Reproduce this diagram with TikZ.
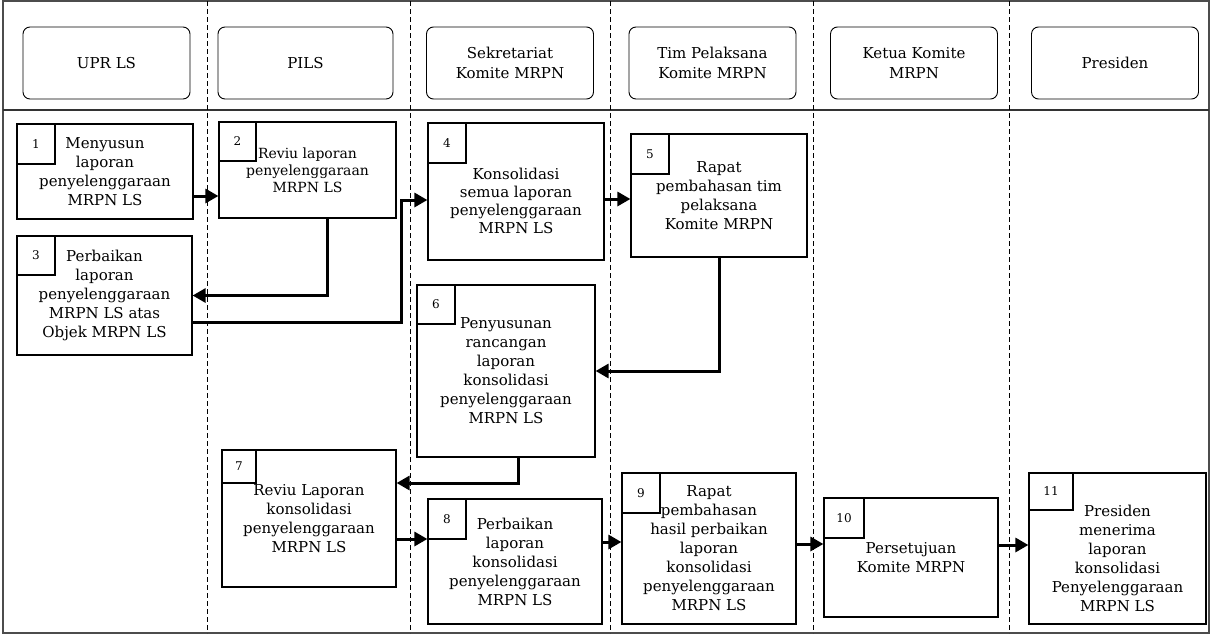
\documentclass[tikz,border=0pt]{standalone}
\usepackage{fontspec}
\setmainfont{DejaVu Serif}
\usetikzlibrary{arrows.meta,positioning}

\begin{document}
\begin{tikzpicture}[
    x=1pt, y=-1pt,
    every node/.style={font=\fontsize{15}{19}\selectfont},
    actor/.style={draw, rounded corners=7pt, line width=0.9pt, minimum width=167pt, minimum height=72pt, align=center, font=\fontsize{15}{20}\selectfont},
    proc/.style={draw, line width=1.2pt, align=center, inner sep=2pt},
    nr/.style={draw, line width=1.2pt, anchor=north west, minimum width=38pt, minimum height=40pt, inner sep=0pt, font=\fontsize{12}{14}\selectfont},
    lane/.style={dash pattern=on 5pt off 3pt, line width=0.9pt},
    arrow/.style={-{Triangle[length=13pt,width=14pt]}, line width=3pt}
]
    \useasboundingbox (0,0) rectangle (1211,635);
    \draw[line width=1.3pt, black!70] (3,1) rectangle (1209,633);
    \draw[line width=1.2pt, black!80] (3,110) -- (1209,110);
    \foreach \x in {207,410,610,813,1009}
        \draw[lane] (\x,1) -- (\x,633);

    \node[actor] (upr) at (106.5,63) {UPR LS};
    \node[actor, minimum width=175pt] (pils) at (305.5,63) {PILS};
    \node[actor] (sek) at (510,63) {Sekretariat\\Komite MRPN};
    \node[actor] (tim) at (712.5,63) {Tim Pelaksana\\Komite MRPN};
    \node[actor] (ketua) at (914,63) {Ketua Komite\\MRPN};
    \node[actor] (pres) at (1115,63) {Presiden};

    \node[proc, minimum width=176pt, minimum height=95pt] (s1) at (105,171.5) {Menyusun\\laporan\\penyelenggaraan\\MRPN LS};
    \node[nr] (n1) at (s1.north west) {1};
    \node[proc, minimum width=177pt, minimum height=96pt, font=\fontsize{14}{17}\selectfont] (s2) at (307.5,170) {Reviu laporan\\penyelenggaraan\\MRPN LS};
    \node[nr, minimum width=37pt, minimum height=39pt] (n2) at (s2.north west) {2};
    \node[proc, minimum width=175pt, minimum height=119pt] (s3) at (104.5,295.5) {Perbaikan\\laporan\\penyelenggaraan\\MRPN LS atas\\Objek MRPN LS};
    \node[nr, minimum height=39pt] (n3) at (s3.north west) {3};
    \node[proc, minimum width=176pt, minimum height=137pt, font=\fontsize{15}{18}\selectfont] (s4) at (516,191.5) {\rule{0pt}{31pt}Konsolidasi\\semua laporan\\penyelenggaraan\\MRPN LS};
    \node[nr] (n4) at (s4.north west) {4};
    \node[proc, minimum width=176pt, minimum height=123pt] (s5) at (719,195.5) {Rapat\\pembahasan tim\\pelaksana\\Komite MRPN};
    \node[nr] (n5) at (s5.north west) {5};
    \node[proc, minimum width=178pt, minimum height=172pt] (s6) at (506,371) {Penyusunan\\rancangan\\laporan\\konsolidasi\\penyelenggaraan\\MRPN LS};
    \node[nr, minimum height=39pt] (n6) at (s6.north west) {6};
    \node[proc, minimum width=174pt, minimum height=137pt] (s7) at (309,518.5) {Reviu Laporan\\konsolidasi\\penyelenggaraan\\MRPN LS};
    \node[nr, minimum width=34pt, minimum height=33pt] (n7) at (s7.north west) {7};
    \node[proc, minimum width=174pt, minimum height=125pt] (s8) at (515,561.5) {Perbaikan\\laporan\\konsolidasi\\penyelenggaraan\\MRPN LS};
    \node[nr] (n8) at (s8.north west) {8};
    \node[proc, minimum width=174pt, minimum height=151pt] (s9) at (709,548.5) {Rapat\\pembahasan\\hasil perbaikan\\laporan\\konsolidasi\\penyelenggaraan\\MRPN LS};
    \node[nr] (n9) at (s9.north west) {9};
    \node[proc, minimum width=174pt, minimum height=119pt] (s10) at (911,557.5) {Persetujuan\\Komite MRPN};
    \node[nr, minimum width=40pt] (n10) at (s10.north west) {10};
    \node[proc, minimum width=177pt, minimum height=151pt] (s11) at (1117.5,548.5) {\rule{0pt}{31pt}Presiden\\menerima\\laporan\\konsolidasi\\Penyelenggaraan\\MRPN LS};
    \node[nr, minimum width=44pt, minimum height=37pt] (n11) at (s11.north west) {11};

    \draw[arrow] ([yshift=-24.5pt]s1.east) -- ([yshift=-26pt]s2.west);
    \draw[arrow] ([xshift=19.5pt]s2.south) |- (s3.east);
    \draw[arrow] ([yshift=-26.5pt]s3.east) -| ([xshift=-26pt,yshift=-8.5pt]s4.west) -- ([yshift=-8.5pt]s4.west);
    \draw[arrow] ([yshift=-7.5pt]s4.east) -- ([yshift=-3.5pt]s5.west);
    \draw[arrow] (s5.south) |- (s6.east);
    \draw[arrow] ([xshift=12pt]s6.south) |- ([yshift=35.5pt]s7.east);
    \draw[arrow] ([yshift=-20.5pt]s7.east) -- ([yshift=22.5pt]s8.west);
    \draw[arrow] ([yshift=19.5pt]s8.east) -- ([yshift=6.5pt]s9.west);
    \draw[arrow] ([yshift=4.5pt]s9.east) -- ([yshift=13.5pt]s10.west);
    \draw[arrow] ([yshift=12.5pt]s10.east) -- ([yshift=3.5pt]s11.west);
\end{tikzpicture}
\end{document}
